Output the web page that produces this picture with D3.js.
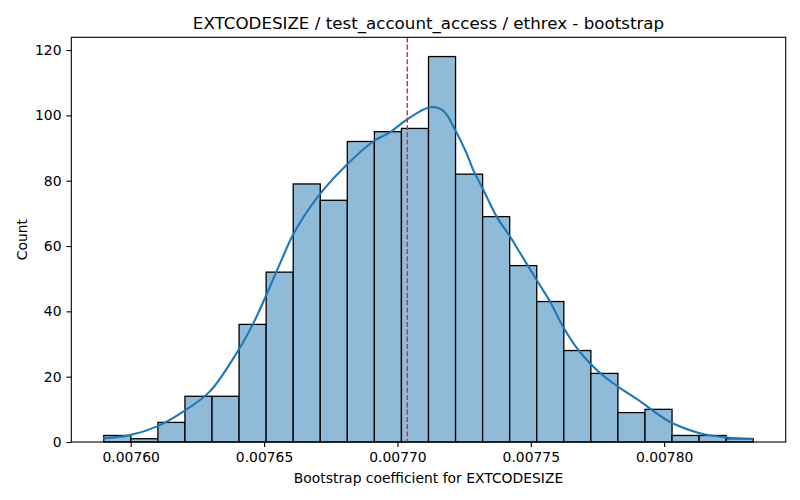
<!DOCTYPE html>
<html>
<head>
<meta charset="utf-8">
<script src="https://cdn.jsdelivr.net/npm/d3@7"></script>
<style>
  body { margin: 0; background: #fff; }
  svg { display: block; font-family: "DejaVu Sans", sans-serif; }
</style>
</head>
<body>
<div id="chart"></div>
<script>
// histogram: 24 equal bins between binStart and binEnd
var binStart = 0.0075899,
    binEnd = 0.0078334;
var counts = [2, 1, 6, 14, 14, 36, 52, 79, 74, 92, 95, 96, 118, 82, 69, 54, 43, 28, 21, 9, 10, 2, 2, 1];

// kde curve
var kdeX = [0.0075897, 0.0075997, 0.0076097, 0.0076197, 0.0076297, 0.0076403, 0.0076460, 0.0076503,
            0.0076560, 0.0076609, 0.0076666, 0.0076722, 0.0076810, 0.0076909, 0.0076972, 0.0077034,
            0.0077122, 0.0077172, 0.0077216, 0.0077259, 0.0077284, 0.0077322, 0.0077372, 0.0077422,
            0.0077459, 0.0077522, 0.0077572, 0.0077621, 0.0077678, 0.0077728, 0.0077784, 0.0077828,
            0.0077897, 0.0077921, 0.0078021, 0.0078134, 0.0078234, 0.0078334];
var kdeY = [1.1, 2.1, 4.7, 9.3, 15.5, 28.0, 36.4, 44.0,
            54.7, 63.5, 71.1, 77.2, 84.9, 92.0, 94.8, 98.6,
            102.5, 101.4, 95.6, 88.4, 83.3, 77.2, 69.0, 62.9,
            58.0, 49.6, 43.0, 35.3, 28.2, 23.6, 19.5, 16.9,
            13.2, 11.8, 6.2, 2.7, 1.4, 1.0];

var refValue = 0.0077037;

var xTicks = [0.00760, 0.00765, 0.00770, 0.00775, 0.00780];
var yTicks = [0, 20, 40, 60, 80, 100, 120];

var title = "EXTCODESIZE / test_account_access / ethrex - bootstrap";
var xLabel = "Bootstrap coefficient for EXTCODESIZE";
var yLabel = "Count";

var width = 800, height = 500;
var margin = { top: 37.3, right: 14.3, bottom: 58, left: 71.3 };
var innerW = width - margin.left - margin.right,
    innerH = height - margin.top - margin.bottom;

var svg = d3.select("#chart").append("svg")
    .attr("width", width)
    .attr("height", height);

var g = svg.append("g")
    .attr("transform", "translate(" + margin.left + "," + margin.top + ")");

// matplotlib style 5% padding on x
var pad = (binEnd - binStart) * 0.05;
var x = d3.scaleLinear()
    .domain([binStart - pad, binEnd + pad])
    .range([0, innerW]);

var y = d3.scaleLinear()
    .domain([0, d3.max(counts) * 1.05])
    .range([innerH, 0]);

var binW = (binEnd - binStart) / counts.length;

g.selectAll("rect.bar")
    .data(counts)
    .enter().append("rect")
    .attr("class", "bar")
    .attr("x", function (d, i) { return x(binStart + i * binW); })
    .attr("y", function (d) { return y(d); })
    .attr("width", function (d, i) { return x(binStart + (i + 1) * binW) - x(binStart + i * binW); })
    .attr("height", function (d) { return innerH - y(d); })
    .attr("fill", "#8fbbd9")
    .attr("stroke", "#000")
    .attr("stroke-width", 1.3);

var line = d3.line()
    .x(function (d, i) { return x(kdeX[i]); })
    .y(function (d) { return y(d); })
    .curve(d3.curveCatmullRom);

g.append("path")
    .datum(kdeY)
    .attr("fill", "none")
    .attr("stroke", "#1f77b4")
    .attr("stroke-width", 2.1)
    .attr("d", line);

g.append("line")
    .attr("x1", x(refValue))
    .attr("x2", x(refValue))
    .attr("y1", 0)
    .attr("y2", innerH)
    .attr("stroke", "#e8262a")
    .attr("stroke-width", 1.4)
    .attr("stroke-dasharray", "5.1,2.2");

// axes
var xAxis = g.append("g")
    .attr("transform", "translate(0," + innerH + ")")
    .call(d3.axisBottom(x).tickValues(xTicks).tickFormat(d3.format(".5f")).tickSizeOuter(0).tickSize(4.9).tickPadding(4.9));

var yAxis = g.append("g")
    .call(d3.axisLeft(y).tickValues(yTicks).tickSizeOuter(0).tickSize(4.9).tickPadding(4.9));

[xAxis, yAxis].forEach(function (a) {
    a.selectAll("text").attr("font-size", "13.9px").attr("fill", "#000").attr("font-family", "DejaVu Sans");
    a.selectAll("line").attr("stroke", "#000").attr("stroke-width", 1.1);
    a.select(".domain").remove();
});

// frame
g.append("rect")
    .attr("width", innerW)
    .attr("height", innerH)
    .attr("fill", "none")
    .attr("stroke", "#000")
    .attr("stroke-width", 1.1);

svg.append("text")
    .attr("x", margin.left + innerW / 2)
    .attr("y", 29)
    .attr("text-anchor", "middle")
    .attr("font-size", "16.7px")
    .text(title);

svg.append("text")
    .attr("x", margin.left + innerW / 2)
    .attr("y", 483)
    .attr("text-anchor", "middle")
    .attr("font-size", "13.9px")
    .text(xLabel);

svg.append("text")
    .attr("transform", "translate(27," + (margin.top + innerH / 2) + ")rotate(-90)")
    .attr("text-anchor", "middle")
    .attr("font-size", "13.9px")
    .text(yLabel);
</script>
</body>
</html>
